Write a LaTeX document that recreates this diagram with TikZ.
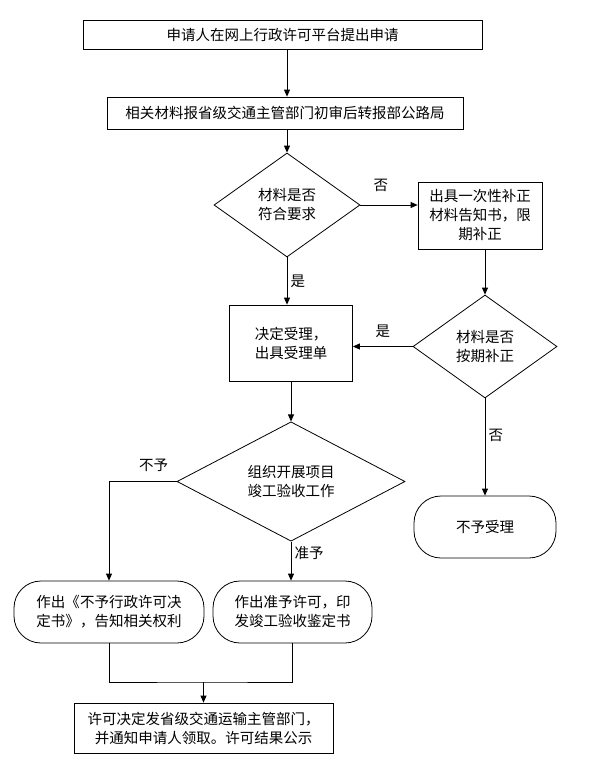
\documentclass[tikz,border=0pt]{standalone}
\usepackage{fontspec}
\newfontfamily\cjk{Noto Sans CJK SC}
\usetikzlibrary{arrows.meta,positioning,shapes.geometric}

\begin{document}
\begin{tikzpicture}[x=1bp,y=-1bp,line width=0.8bp,
  every node/.style={font=\cjk\fontsize{14.5bp}{19bp}\selectfont},
  >={Triangle[length=7bp,width=6bp]},
  box/.style={draw,rectangle,align=center,inner sep=0pt},
  roundbox/.style={draw,rectangle,rounded corners=27bp,align=center,inner sep=0pt},
  choice/.style={draw,diamond,align=center,inner sep=0pt}]
  \useasboundingbox (0,0) rectangle (595,767);
  \node[box,minimum width=399bp,minimum height=29bp] (apply) at (282.5,34.5) {申请人在网上行政许可平台提出申请};
  \node[box,minimum width=356bp,minimum height=32bp] (report) at (285,113) {相关材料报省级交通主管部门初审后转报部公路局};
  \node[choice,minimum width=146bp,minimum height=104bp] (check) at (287,205) {材料是否\\符合要求};
  \node[box,minimum width=124bp,minimum height=67bp] (notice) at (480,215.5) {出具一次性补正\\材料告知书，限\\期补正};
  \node[choice,minimum width=144bp,minimum height=103bp] (recheck) at (485,346.5) {材料是否\\按期补正};
  \node[box,minimum width=123bp,minimum height=76bp] (accept) at (291,343) {决定受理，\\出具受理单};
  \node[choice,minimum width=228bp,minimum height=105bp] (inspect) at (291,481.5) {组织开展项目\\竣工验收工作};
  \node[roundbox,minimum width=142bp,minimum height=62bp] (reject) at (485,527) {不予受理};
  \node[roundbox,minimum width=190bp,minimum height=62bp] (deny) at (109,612) {作出《不予行政许可决\\定书》，告知相关权利};
  \node[roundbox,minimum width=159bp,minimum height=62bp] (grant) at (292.5,612) {作出准予许可，印\\发竣工验收鉴定书};
  \node[box,minimum width=259bp,minimum height=50bp] (result) at (203.5,728) {许可决定发省级交通运输主管部门，\\并通知申请人领取。许可结果公示};
  \coordinate (join) at (203.5,682);
  \draw[->] (apply.south -| check.north) -- (report.north -| check.north);
  \draw[->] (report.south -| check.north) -- (check.north);
  \draw[->] (check.east) -- (check.east -| notice.west) node[pos=0.36,above=10bp] {否};
  \draw[->] (notice.south -| recheck.north) -- (recheck.north);
  \draw[->] (recheck.west) -- (recheck.west -| accept.east) node[midway,above=5bp] {是};
  \draw[->] (check.south) -- (check.south |- accept.north) node[midway,right] {是};
  \draw[->] (accept.south) -- (inspect.north);
  \draw[->] (inspect.west) -| (deny.north) node[pos=0.17,above=6bp] {不予};
  \draw[->] (inspect.south) -- (inspect.south |- grant.north) node[pos=0.3,right] {准予};
  \draw[->] (recheck.south) -- (reject.north) node[pos=0.38,right] {否};
  \draw (deny.south) |- (join) -| (grant.south);
  \draw[->] (join) -- (result.north);
\end{tikzpicture}
\end{document}
